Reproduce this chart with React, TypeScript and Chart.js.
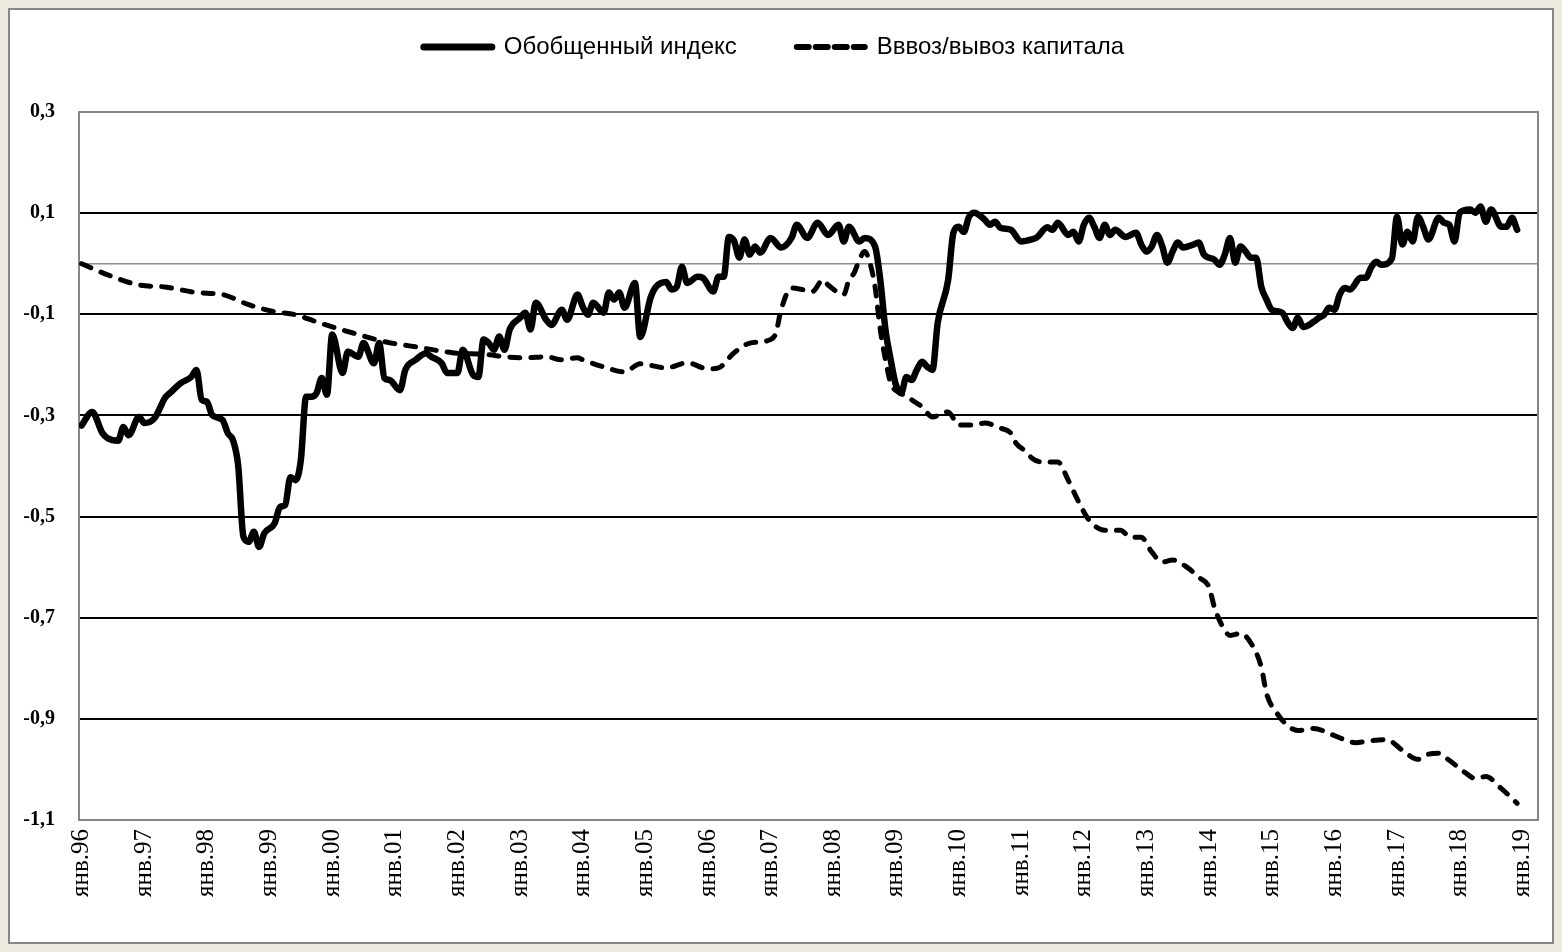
import React, { useEffect, useRef } from 'react';
import { Chart, registerables } from 'chart.js';

Chart.register(...registerables);

// X axis: months since January 1996; one labelled tick every January
const xTickLabels = [
  'янв.96', 'янв.97', 'янв.98', 'янв.99', 'янв.00', 'янв.01', 'янв.02', 'янв.03',
  'янв.04', 'янв.05', 'янв.06', 'янв.07', 'янв.08', 'янв.09', 'янв.10', 'янв.11',
  'янв.12', 'янв.13', 'янв.14', 'янв.15', 'янв.16', 'янв.17', 'янв.18', 'янв.19',
];
const xTickMonths = [0, 12, 24, 36, 48, 60, 72, 84, 96, 108, 120, 132, 144, 156, 168, 180, 192, 204, 216, 228, 240, 252, 264, 276];

const yTickValues = [0.3, 0.1, 0, -0.1, -0.3, -0.5, -0.7, -0.9, -1.1];
const yTickLabels = ['0,3', '0,1', '', '-0,1', '-0,3', '-0,5', '-0,7', '-0,9', '-1,1'];

const seriesNames = ['Обобщенный индекс', 'Вввоз/вывоз капитала'];

// Обобщенный индекс (month index, value)
const indexMonths = [
  0, 2, 4, 5, 7, 8, 9, 11, 12, 14, 16, 17, 19, 21, 22, 23, 24, 25, 27, 28, 29, 30,
  31, 32, 33, 34, 35, 37, 38, 39, 40, 41, 42, 43, 44, 45, 46, 47, 48, 50, 51, 53,
  54, 56, 57, 58, 59, 61, 62, 64, 66, 67, 69, 70, 72, 73, 75, 76, 77, 78, 79, 80,
  81, 82, 84, 85, 86, 87, 89, 90, 92, 93, 95, 96, 97, 98, 100, 101, 102, 103, 104, 106,
  107, 109, 110, 112, 113, 114, 115, 116, 118, 119, 121, 122, 123, 124, 125, 126, 127, 128,
  129, 130, 132, 134, 136, 137, 139, 141, 143, 145, 146, 147, 149, 150, 152, 153, 154, 155,
  156, 157, 158, 159, 160, 161, 162, 163, 164, 166, 167, 168, 169, 170, 171, 173, 174, 175,
  176, 178, 180, 182, 183, 185, 186, 187, 189, 190, 191, 192, 193, 194, 195, 196, 197, 198,
  200, 202, 203, 204, 205, 206, 207, 208, 209, 210, 211, 213, 214, 215, 217, 218, 219, 220,
  221, 222, 223, 224, 225, 226, 227, 228, 230, 231, 232, 233, 234, 236, 237, 238, 239, 240,
  241, 242, 243, 245, 246, 247, 248, 249, 251, 252, 253, 254, 255, 256, 257, 258, 260, 261,
  262, 263, 264, 266, 267, 268, 269, 270, 272, 273, 274, 275,
];
const indexValues = [
  -0.32, -0.293, -0.335, -0.345, -0.35, -0.323, -0.339, -0.303, -0.315, -0.305, -0.265, -0.255, -0.236, -0.224, -0.21, -0.269, -0.273, -0.299, -0.309, -0.335, -0.349, -0.4,
  -0.54, -0.55, -0.53, -0.56, -0.533, -0.513, -0.481, -0.477, -0.422, -0.428, -0.388, -0.263, -0.263, -0.256, -0.226, -0.259, -0.14, -0.216, -0.174, -0.184,
  -0.157, -0.197, -0.157, -0.226, -0.23, -0.25, -0.21, -0.19, -0.177, -0.184, -0.197, -0.216, -0.216, -0.17, -0.22, -0.224, -0.15, -0.157, -0.17, -0.144,
  -0.17, -0.13, -0.107, -0.097, -0.13, -0.077, -0.111, -0.121, -0.091, -0.111, -0.061, -0.085, -0.101, -0.077, -0.097, -0.057, -0.071, -0.057, -0.087, -0.038,
  -0.145, -0.067, -0.046, -0.036, -0.051, -0.046, -0.006, -0.038, -0.026, -0.028, -0.055, -0.026, -0.026, 0.053, 0.045, 0.012, 0.048, 0.018,
  0.034, 0.022, 0.051, 0.032, 0.051, 0.077, 0.051, 0.081, 0.057, 0.077, 0.044, 0.073, 0.044, 0.051, 0.034, -0.032, -0.131, -0.19,
  -0.24, -0.256, -0.224, -0.23, -0.21, -0.194, -0.204, -0.21, -0.117, -0.032, 0.061, 0.073, 0.063, 0.093, 0.101, 0.087, 0.077, 0.083,
  0.071, 0.067, 0.044, 0.048, 0.052, 0.072, 0.067, 0.081, 0.057, 0.063, 0.044, 0.077, 0.091, 0.073, 0.051, 0.077, 0.057, 0.067,
  0.053, 0.061, 0.038, 0.024, 0.034, 0.057, 0.035, 0.002, 0.024, 0.042, 0.032, 0.038, 0.042, 0.018, 0.008, -0.002, 0.018, 0.051,
  0.002, 0.034, 0.024, 0.012, 0.012, -0.046, -0.071, -0.091, -0.097, -0.115, -0.127, -0.107, -0.125, -0.115, -0.107, -0.101, -0.087, -0.091,
  -0.061, -0.048, -0.051, -0.028, -0.028, -0.008, 0.004, -0.002, 0.01, 0.093, 0.038, 0.063, 0.044, 0.093, 0.073, 0.048, 0.091, 0.081,
  0.077, 0.044, 0.101, 0.107, 0.101, 0.113, 0.083, 0.107, 0.073, 0.073, 0.091, 0.067,
];

// Вввоз/вывоз капитала (month index, value)
const capitalMonths = [
  0, 5, 11, 16, 22, 27, 32, 37, 41, 45, 48, 52, 58, 65, 71, 78, 81, 85, 89, 92, 95, 96,
  100, 104, 107, 112, 116, 120, 122, 125, 128, 132, 133, 134, 136, 138, 140, 142, 143, 146, 147, 148,
  149, 150, 151, 152, 153, 154, 155, 157, 159, 161, 163, 166, 168, 171, 173, 176, 178, 179, 181, 182,
  184, 187, 189, 191, 193, 196, 199, 201, 203, 205, 207, 209, 212, 214, 216, 217, 219, 220, 222, 224,
  226, 227, 229, 231, 233, 236, 240, 244, 247, 250, 253, 256, 258, 260, 262, 265, 267, 269, 272, 275,
];
const capitalValues = [
  0.0, -0.022, -0.042, -0.046, -0.057, -0.061, -0.081, -0.095, -0.101, -0.115, -0.125, -0.137, -0.154, -0.166, -0.176, -0.18, -0.184, -0.186, -0.184, -0.19, -0.186, -0.19,
  -0.204, -0.214, -0.198, -0.206, -0.196, -0.208, -0.206, -0.176, -0.157, -0.15, -0.137, -0.091, -0.048, -0.051, -0.055, -0.032, -0.042, -0.061, -0.032, -0.018,
  0.008, 0.024, 0.002, -0.046, -0.13, -0.19, -0.236, -0.256, -0.269, -0.283, -0.303, -0.293, -0.319, -0.319, -0.315, -0.325, -0.335, -0.355, -0.372, -0.384,
  -0.392, -0.392, -0.428, -0.471, -0.507, -0.527, -0.527, -0.541, -0.541, -0.57, -0.59, -0.586, -0.602, -0.62, -0.64, -0.679, -0.725, -0.735, -0.731, -0.75,
  -0.798, -0.85, -0.889, -0.913, -0.923, -0.919, -0.933, -0.947, -0.943, -0.941, -0.962, -0.98, -0.97, -0.968, -0.982, -1.006, -1.018, -1.014, -1.038, -1.067,
];

const plotBorder = {
  id: 'plotBorder',
  beforeDatasetsDraw(chart: any) {
    const { ctx, chartArea } = chart;
    const { left, top, right, bottom } = chartArea;
    ctx.save();
    ctx.strokeStyle = '#868686';
    ctx.lineWidth = 2;
    ctx.strokeRect(left, top, right - left, bottom - top);
    ctx.restore();
  },
};

const legendSpacer = {
  id: 'legendSpacer',
  beforeInit(chart: any) {
    const legend = chart.legend;
    if (!legend) return;
    const orig = legend.fit;
    legend.fit = function () {
      orig.call(this);
      this.height += 43;
    };
  },
};

const near = (a: number, b: number) => Math.abs(a - b) < 1e-9;

export default function App() {
  const canvasRef = useRef<HTMLCanvasElement | null>(null);

  useEffect(() => {
    document.body.style.background = '#EDEBE0';
    const canvas = canvasRef.current;
    if (!canvas) return;
    const chart = new Chart(canvas, {
      type: 'line',
      data: {
        datasets: [
          {
            label: seriesNames[0],
            data: indexMonths.map((m, i) => ({ x: m, y: indexValues[i] })),
            borderColor: '#000000',
            backgroundColor: '#000000',
            borderWidth: 6.5,
            pointRadius: 0,
            pointHoverRadius: 0,
            cubicInterpolationMode: 'monotone',
            borderCapStyle: 'round',
            borderJoinStyle: 'round',
          },
          {
            label: seriesNames[1],
            data: capitalMonths.map((m, i) => ({ x: m, y: capitalValues[i] })),
            borderColor: '#000000',
            backgroundColor: '#000000',
            borderWidth: 5,
            borderDash: [10, 11],
            pointRadius: 0,
            pointHoverRadius: 0,
            cubicInterpolationMode: 'monotone',
            borderCapStyle: 'round',
            borderJoinStyle: 'round',
          },
        ],
      } as any,
      options: {
        responsive: false,
        animation: false,
        layout: { padding: { top: -35, right: 14, left: 0, bottom: 0 } },
        plugins: {
          legend: {
            display: true,
            position: 'top',
            labels: {
              usePointStyle: true,
              pointStyle: 'line',
              pointStyleWidth: 68,
              padding: 60,
              color: '#000000',
              font: { family: '"Liberation Sans", Arial, sans-serif', size: 24 },
              generateLabels: (chart: any) => {
                const items = Chart.defaults.plugins.legend.labels.generateLabels(chart);
                return items.map((item: any) => {
                  const ds = chart.data.datasets[item.datasetIndex];
                  return {
                    ...item,
                    lineDash: ds.borderDash ? [12, 7] : [],
                    lineWidth: ds.borderDash ? 6 : 7,
                    lineCap: 'round',
                    strokeStyle: '#000000',
                    fillStyle: '#000000',
                  };
                });
              },
            },
          },
          tooltip: { enabled: false },
        },
        scales: {
          x: {
            type: 'linear',
            min: -0.5,
            max: 279,
            afterBuildTicks: (scale: any) => {
              scale.ticks = xTickMonths.map((v) => ({ value: v }));
            },
            afterFit: (scale: any) => {
              scale.height = 122;
              scale.paddingRight = 0;
              scale.paddingLeft = 0;
            },
            ticks: {
              autoSkip: false,
              maxRotation: 90,
              minRotation: 90,
              padding: 9,
              color: '#000000',
              font: { family: '"Liberation Serif", "Times New Roman", serif', size: 25 },
              callback: (value: any) => {
                const i = xTickMonths.indexOf(Number(value));
                return i >= 0 ? xTickLabels[i] : '';
              },
            },
            grid: { display: false, drawTicks: false },
            border: { display: false },
          },
          y: {
            type: 'linear',
            min: -1.1,
            max: 0.3,
            afterBuildTicks: (scale: any) => {
              scale.ticks = yTickValues.map((v) => ({ value: v }));
            },
            afterFit: (scale: any) => {
              scale.width = 69;
            },
            ticks: {
              padding: 24,
              color: '#000000',
              font: { family: '"Liberation Serif", "Times New Roman", serif', size: 20, weight: 'bold' },
              callback: (value: any) => {
                const i = yTickValues.findIndex((v) => near(v, Number(value)));
                return i >= 0 ? yTickLabels[i] : '';
              },
            },
            grid: {
              drawTicks: false,
              color: (ctx: any) => {
                const v = ctx.tick ? ctx.tick.value : NaN;
                if (near(v, 0)) return '#8c8c8c';
                if (near(v, 0.3) || near(v, -1.1)) return 'rgba(0,0,0,0)';
                return '#000000';
              },
              lineWidth: (ctx: any) => {
                const v = ctx.tick ? ctx.tick.value : NaN;
                return near(v, 0) ? 1.5 : 2;
              },
            },
            border: { display: false },
          },
        },
      } as any,
      plugins: [plotBorder, legendSpacer],
    });
    return () => chart.destroy();
  }, []);

  return (
    <div
      style={{
        width: 1546,
        height: 936,
        boxSizing: 'border-box',
        border: '2px solid #878787',
        background: '#ffffff',
      }}
    >
      <canvas ref={canvasRef} width={1542} height={932} style={{ display: 'block' }} />
    </div>
  );
}
